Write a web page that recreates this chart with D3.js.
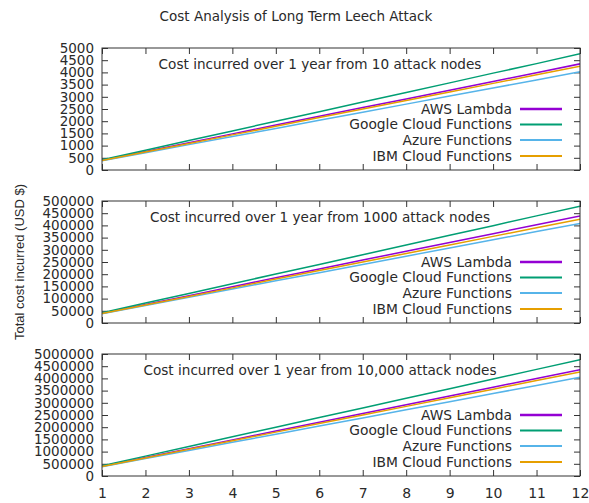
<!DOCTYPE html>
<html>
<head>
<meta charset="utf-8">
<script src="https://cdn.jsdelivr.net/npm/d3@7"></script>
<style>
  body { margin: 0; background: #fff; }
  svg { display: block; }
</style>
</head>
<body>
<script>
var months = [1, 2, 3, 4, 5, 6, 7, 8, 9, 10, 11, 12];
var providers = ["AWS Lambda", "Google Cloud Functions", "Azure Functions", "IBM Cloud Functions"];
var colors = ["#9400d3", "#009e73", "#56b4e9", "#e69f00"];

// 10 attack nodes
var aws10    = [400, 760, 1120, 1480, 1840, 2200, 2560, 2910, 3270, 3630, 3990, 4350];
var google10 = [420, 810, 1210, 1600, 2000, 2390, 2790, 3180, 3570, 3970, 4360, 4760];
var azure10  = [380, 710, 1040, 1370, 1700, 2040, 2370, 2700, 3030, 3360, 3690, 4030];
var ibm10    = [390, 740, 1090, 1440, 1790, 2150, 2500, 2850, 3200, 3550, 3900, 4250];

// 1000 attack nodes
var aws1000    = [40000, 76000, 112000, 149000, 185000, 221000, 258000, 294000, 330000, 366000, 403000, 439000];
var google1000 = [42000, 82000, 121000, 161000, 201000, 240000, 280000, 320000, 360000, 399000, 439000, 479000];
var azure1000  = [38000, 72000, 105000, 139000, 173000, 206000, 240000, 274000, 307000, 341000, 375000, 408000];
var ibm1000    = [39000, 74000, 109000, 144000, 180000, 215000, 250000, 285000, 320000, 355000, 390000, 425000];

// 10,000 attack nodes
var aws10k    = [400000, 760000, 1120000, 1480000, 1840000, 2200000, 2560000, 2920000, 3280000, 3640000, 4000000, 4360000];
var google10k = [420000, 815000, 1210000, 1605000, 2000000, 2395000, 2790000, 3185000, 3580000, 3975000, 4370000, 4770000];
var azure10k  = [380000, 713000, 1047000, 1380000, 1713000, 2047000, 2380000, 2713000, 3047000, 3380000, 3713000, 4050000];
var ibm10k    = [390000, 742000, 1094000, 1446000, 1798000, 2150000, 2502000, 2854000, 3206000, 3558000, 3910000, 4260000];

var panels = [
  {title: "Cost incurred over 1 year from 10 attack nodes", max: 5000, series: [aws10, google10, azure10, ibm10]},
  {title: "Cost incurred over 1 year from 1000 attack nodes", max: 500000, series: [aws1000, google1000, azure1000, ibm1000]},
  {title: "Cost incurred over 1 year from 10,000 attack nodes", max: 5000000, series: [aws10k, google10k, azure10k, ibm10k]}
];

var width = 589, height = 503;
var left = 102, right = 580;
var tops = [48, 201, 354], ph = 122;
var ink = "#2a2a2a";
var font = "DejaVu Sans, Verdana, sans-serif";

var svg = d3.select("body").append("svg")
    .attr("width", width)
    .attr("height", height)
    .attr("font-family", font);

svg.append("text")
    .attr("x", 296).attr("y", 21)
    .attr("text-anchor", "middle")
    .attr("font-size", 13.5)
    .attr("fill", ink)
    .text("Cost Analysis of Long Term Leech Attack");

svg.append("text")
    .attr("transform", "translate(24,262) rotate(-90)")
    .attr("text-anchor", "middle")
    .attr("font-family", "Liberation Sans, Arial, sans-serif")
    .attr("font-size", 13)
    .attr("fill", ink)
    .text("Total cost incurred (USD $)");

var x = d3.scaleLinear().domain([1, 12]).range([left, right]);

panels.forEach(function(p, pi) {
  var top = tops[pi];
  var y = d3.scaleLinear().domain([0, p.max]).range([top + ph, top]);
  var yt = d3.range(0, p.max + 1, p.max / 10);
  var g = svg.append("g");

  // y axis left (labels), inward ticks
  g.append("g")
      .attr("transform", `translate(${left},0)`)
      .call(d3.axisLeft(y).tickValues(yt).tickSize(-6).tickPadding(8).tickFormat(d3.format("d")))
      .call(a => a.select(".domain").remove())
      .call(a => a.selectAll("text").attr("font-size", 13.5).attr("fill", ink).attr("font-family", font));

  // y mirror ticks right
  g.append("g")
      .attr("transform", `translate(${right},0)`)
      .call(d3.axisRight(y).tickValues(yt).tickSize(-6).tickFormat(""))
      .call(a => a.select(".domain").remove());

  // x axis bottom
  g.append("g")
      .attr("transform", `translate(0,${top + ph})`)
      .call(d3.axisBottom(x).tickValues(months).tickSize(-6).tickPadding(12).tickFormat(pi === 2 ? d3.format("d") : ""))
      .call(a => a.select(".domain").remove())
      .call(a => a.selectAll("text").attr("font-size", 14).attr("fill", ink).attr("font-family", font));

  // x mirror ticks top
  g.append("g")
      .attr("transform", `translate(0,${top})`)
      .call(d3.axisTop(x).tickValues(months).tickSize(-6).tickFormat(""))
      .call(a => a.select(".domain").remove());

  g.selectAll(".tick line").attr("stroke", "#333");

  var clipId = "clip" + pi;
  svg.append("clipPath").attr("id", clipId)
    .append("rect").attr("x", left).attr("y", top).attr("width", right - left).attr("height", ph);

  var line = d3.line().x((d, i) => x(months[i])).y(d => y(d));

  g.append("g").attr("clip-path", `url(#${clipId})`)
    .selectAll("path")
    .data(p.series)
    .join("path")
      .attr("d", line)
      .attr("fill", "none")
      .attr("stroke", (d, i) => colors[i])
      .attr("stroke-width", 1.5);

  g.append("rect")
      .attr("x", left).attr("y", top)
      .attr("width", right - left).attr("height", ph)
      .attr("fill", "none")
      .attr("stroke", "#333")
      .attr("stroke-width", 1);

  g.append("text")
      .attr("x", 320).attr("y", top + 21)
      .attr("text-anchor", "middle")
      .attr("font-size", 13.6)
      .attr("fill", ink)
      .text(p.title);

  var rows = [61, 76.5, 92, 108];
  var leg = g.selectAll(".leg")
    .data(providers)
    .join("g")
      .attr("transform", (d, i) => `translate(0,${top + rows[i]})`);
  leg.append("text")
      .attr("x", 512).attr("dy", "0.35em")
      .attr("text-anchor", "end")
      .attr("font-size", 13.8)
      .attr("fill", ink)
      .text(d => d);
  leg.append("line")
      .attr("x1", 520).attr("x2", 562)
      .attr("stroke", (d, i) => colors[i])
      .attr("stroke-width", (d, i) => i === 0 ? 2.5 : 2);
});
</script>
</body>
</html>
